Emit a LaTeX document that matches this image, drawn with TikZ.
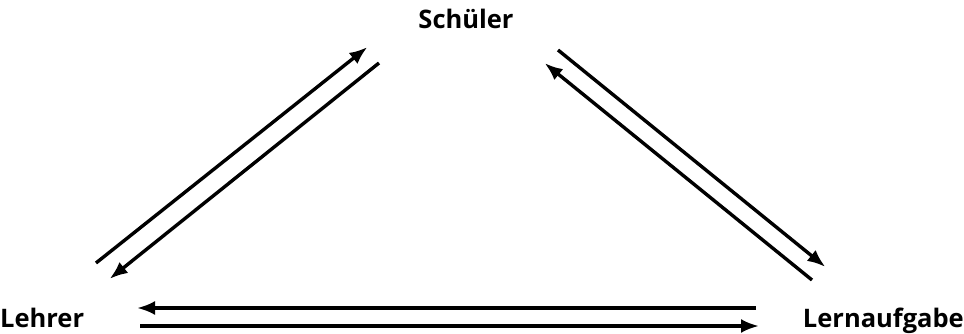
\documentclass[tikz,border=0pt]{standalone}
\usepackage{fontspec}
\setmainfont{Open Sans}
\usetikzlibrary{arrows.meta}
\begin{document}
\begin{tikzpicture}[x=1pt,y=-1pt,
  lbl/.style={font=\bfseries\fontsize{25.5}{28}\selectfont, inner sep=0pt},
  conn/.style={line width=3.4pt, -{Latex[length=18pt,width=14pt]}, shorten >=-3pt}]
\useasboundingbox (0,0) rectangle (964,334);
\node[lbl] (s) at (466,19) {Schüler};
\node[lbl, anchor=west] (l) at (0,318) {Lehrer};
\node[lbl, anchor=east] (a) at (964,321) {Lernaufgabe};
% endpoints
\coordinate (l1s) at (96,263);  \coordinate (l1e) at (365,49);
\coordinate (l2s) at (379,63);  \coordinate (l2e) at (112,277);
\coordinate (r1s) at (558,50);  \coordinate (r1e) at (823,265);
\coordinate (r2s) at (812,280); \coordinate (r2e) at (547,65);
\coordinate (b1s) at (756,308); \coordinate (b1e) at (140,308);
\coordinate (b2s) at (140,326); \coordinate (b2e) at (756,326);
\draw[conn] (l1s) -- (l1e);
\draw[conn] (l2s) -- (l2e);
\draw[conn] (r1s) -- (r1e);
\draw[conn] (r2s) -- (r2e);
\draw[conn] (b1s) -- (b1e);
\draw[conn] (b2s) -- (b2e);
\end{tikzpicture}
\end{document}
